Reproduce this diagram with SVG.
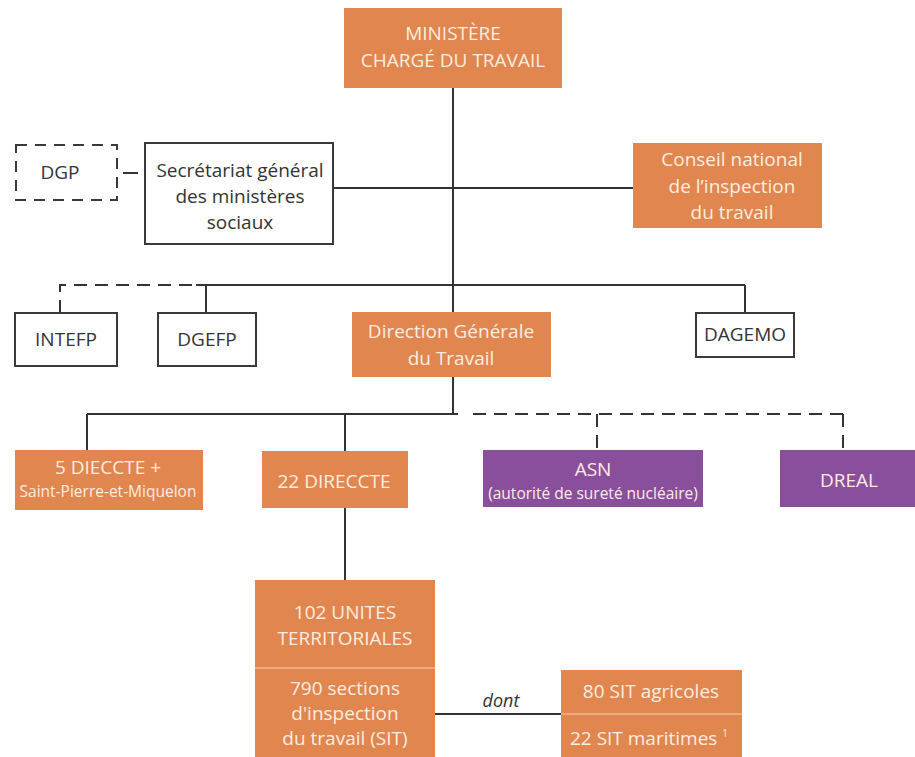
<svg xmlns="http://www.w3.org/2000/svg" width="915" height="757" viewBox="0 0 915 757">
<style>
.o{fill:#E1864F}
.p{fill:#8A4F9C}
.w{fill:#fff;stroke:#3a3a3a;stroke-width:2}
.d{fill:#fff;stroke:#3a3a3a;stroke-width:2;stroke-dasharray:11 8}
.tl{font-family:"Open Sans","Liberation Sans",sans-serif;font-size:19px;fill:#FBEDE0;text-anchor:middle}
.td{font-family:"Open Sans","Liberation Sans",sans-serif;font-size:19px;fill:#333;text-anchor:middle}
.sm{font-size:15.5px}
.ln{stroke:#333;stroke-width:2;fill:none}
.ds{stroke:#333;stroke-width:2;fill:none;stroke-dasharray:13 8}
.sep{stroke:#F3D2BC;stroke-width:1.2}
</style>
<rect width="915" height="757" fill="#fff"/>
<g id="connectors">
<line class="ln" x1="453" y1="88" x2="453" y2="312"/>
<line class="ln" x1="333" y1="188" x2="633" y2="188"/>
<line class="ln" x1="123" y1="173" x2="138" y2="173"/>
<polyline class="ds" points="60,313 60,285 196,285"/>
<line class="ln" x1="196" y1="285" x2="745" y2="285"/>
<line class="ln" x1="206" y1="285" x2="206" y2="313"/>
<line class="ln" x1="745" y1="285" x2="745" y2="313"/>
<line class="ln" x1="453" y1="377" x2="453" y2="414"/>
<line class="ln" x1="87" y1="414" x2="458" y2="414"/>
<line class="ln" x1="87" y1="414" x2="87" y2="450"/>
<line class="ln" x1="345" y1="414" x2="345" y2="580"/>
<line class="ds" x1="473" y1="414" x2="843" y2="414"/>
<line class="ds" x1="597" y1="414" x2="597" y2="450"/>
<line class="ds" x1="843" y1="414" x2="843" y2="450"/>
<line class="ln" x1="435" y1="714" x2="561" y2="714"/>
<text x="501" y="707" class="td" style="font-style:italic;font-size:18px">dont</text>
</g>
<g id="ministere">
<rect class="o" x="344" y="8" width="218" height="80"/>
<text x="453" y="40" class="tl">MINISTÈRE</text>
<text x="453" y="67" class="tl">CHARGÉ DU TRAVAIL</text>
</g>
<g id="dgp">
<rect class="d" x="16" y="145" width="101" height="55"/>
<text x="60" y="179" class="td">DGP</text>
</g>
<g id="secretariat">
<rect class="w" x="145" y="143" width="188" height="101"/>
<text x="240" y="177" class="td">Secrétariat général</text>
<text x="240" y="203" class="td">des ministères</text>
<text x="240" y="229" class="td">sociaux</text>
</g>
<g id="conseil">
<rect class="o" x="633" y="143" width="189" height="85"/>
<text x="732" y="166" class="tl">Conseil national</text>
<text x="732" y="193" class="tl">de l’inspection</text>
<text x="732" y="219" class="tl">du travail</text>
</g>
<g id="intefp">
<rect class="w" x="15" y="313" width="102" height="53"/>
<text x="66" y="346" class="td">INTEFP</text>
</g>
<g id="dgefp">
<rect class="w" x="158" y="313" width="98" height="53"/>
<text x="207" y="346" class="td">DGEFP</text>
</g>
<g id="dgt">
<rect class="o" x="352" y="312" width="199" height="65"/>
<text x="451" y="338" class="tl">Direction Générale</text>
<text x="451" y="365" class="tl">du Travail</text>
</g>
<g id="dagemo">
<rect class="w" x="696" y="313" width="98" height="44"/>
<text x="745" y="341" class="td">DAGEMO</text>
</g>
<g id="dieccte">
<rect class="o" x="15" y="450" width="188" height="60"/>
<text x="108" y="474" class="tl">5 DIECCTE +</text>
<text x="108" y="497" class="tl sm">Saint-Pierre-et-Miquelon</text>
</g>
<g id="direccte">
<rect class="o" x="262" y="451" width="146" height="57"/>
<text x="334" y="488" class="tl">22 DIRECCTE</text>
</g>
<g id="asn">
<rect class="p" x="483" y="450" width="220" height="57"/>
<text x="593" y="476" class="tl">ASN</text>
<text x="593" y="499" class="tl sm">(autorité de  sureté nucléaire)</text>
</g>
<g id="dreal">
<rect class="p" x="780" y="450" width="140" height="57"/>
<text x="849" y="487" class="tl">DREAL</text>
</g>
<g id="ut">
<rect class="o" x="255" y="580" width="180" height="180"/>
<line class="sep" x1="255" y1="668" x2="435" y2="668"/>
<text x="345" y="619" class="tl">102 UNITES</text>
<text x="345" y="645" class="tl">TERRITORIALES</text>
<text x="345" y="695" class="tl">790 sections</text>
<text x="345" y="720" class="tl">d'inspection</text>
<text x="345" y="745" class="tl">du travail (SIT)</text>
</g>
<g id="sit">
<rect class="o" x="561" y="670" width="181" height="90"/>
<line class="sep" x1="561" y1="714" x2="742" y2="714"/>
<text x="651" y="698" class="tl">80 SIT agricoles</text>
<text x="649" y="745" class="tl">22 SIT maritimes <tspan font-size="10" dy="-8">1</tspan></text>
</g>
</svg>
